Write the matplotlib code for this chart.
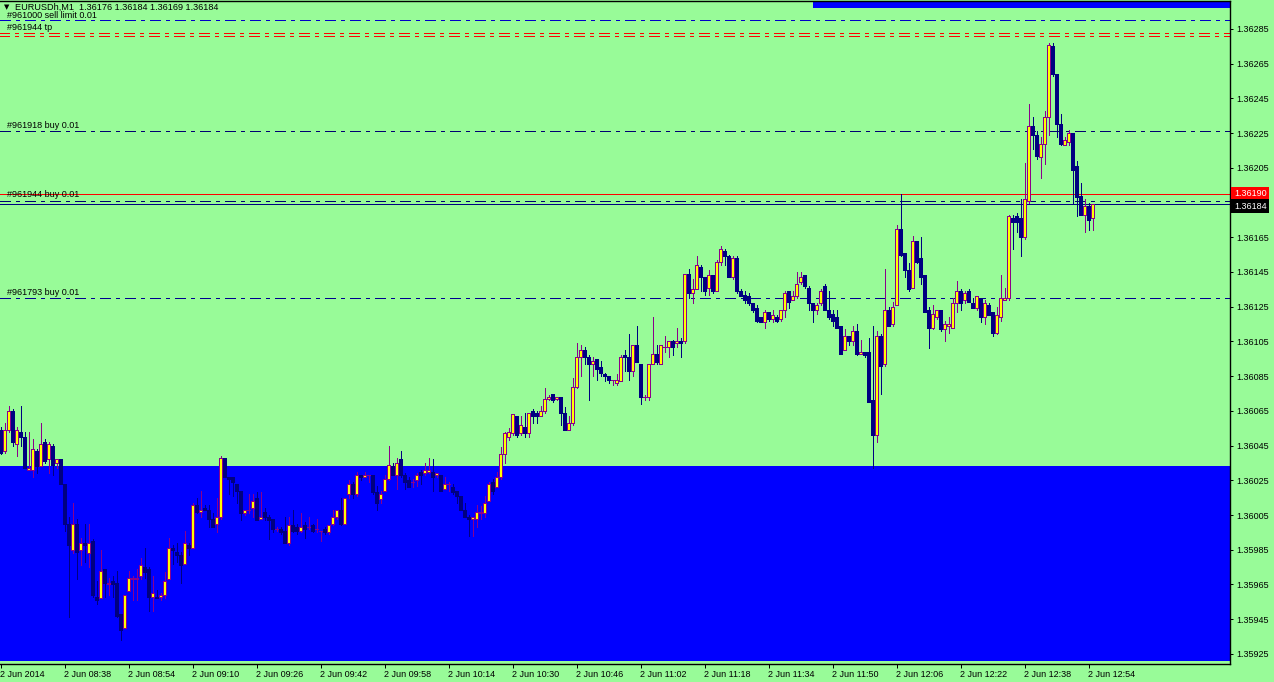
import numpy as np
import pandas as pd
import matplotlib
matplotlib.use("Agg")
import matplotlib.pyplot as plt
import matplotlib.transforms as mtransforms
from matplotlib.patches import Rectangle

# EURUSDh M1 bars, 2 Jun 2014 from 08:22
# prices in points above 1.36000 (1 point = 0.00001)
opens = [54, 42, 54, 65, 46, 53, 50, 31, 31, 42,
         33, 47, 37, 45, 35, 37, 23, 0, -15, 0,
         -15, -11, -17, -10, -42, -43, -26, -35, -33, -34,
         -52, -60, -39, -32, -32, -30, -25, -26, -42, -42,
         -42, -41, -32, -14, -16, -18, -23, -12, -14, 11,
         7, 9, 8, 3, 0, 4, 38, 27, 27, 23,
         19, 6, 8, 9, 15, 3, 7, 4, 3, -3,
         -3, -4, -11, -1, -2, -4, -1, -2, -1, -3,
         -4, -3, -5, 0, 4, 8, 0, 17, 23, 17,
         28, 27, 28, 28, 18, 14, 19, 26, 33, 28,
         37, 28, 25, 24, 25, 30, 29, 30, 30, 28,
         28, 20, 23, 21, 19, 16, 8, 4, 3, 3,
         6, 6, 13, 24, 21, 27, 40, 50, 52, 62,
         52, 56, 52, 65, 64, 62, 65, 72, 75, 72,
         73, 64, 54, 58, 79, 96, 100, 96, 92, 95,
         90, 86, 85, 83, 81, 82, 97, 96, 88, 103,
         92, 73, 73, 92, 98, 92, 102, 102, 105, 104,
         105, 105, 144, 133, 135, 148, 142, 136, 143, 134,
         151, 157, 154, 142, 153, 134, 132, 131, 127, 124,
         119, 116, 122, 118, 119, 118, 123, 134, 129, 131,
         139, 143, 136, 127, 123, 127, 137, 123, 121, 119,
         114, 100, 108, 105, 111, 98, 99, 99, 71, 51,
         108, 92, 123, 115, 126, 170, 156, 146, 136, 163,
         153, 143, 123, 113, 119, 123, 112, 114, 113, 127,
         134, 129, 134, 127, 124, 130, 119, 126, 122, 110,
         119, 129, 130, 176, 177, 176, 165, 186, 229, 224,
         211, 219, 234, 275, 259, 230, 218, 220, 225, 206,
         189, 178, 183, 176]
highs = [56, 58, 68, 66, 56, 68, 53, 53, 49, 43,
         58, 49, 47, 46, 37, 37, 23, 4, 12, 3,
         -8, 0, 0, -9, -33, -15, -26, -31, -30, -27,
         -52, -41, -27, -30, -26, -20, -14, -25, -30, -38,
         -40, -28, -8, -12, -11, -16, -4, -11, 12, 15,
         19, 11, 11, 6, 15, 39, 38, 27, 27, 23,
         19, 8, 17, 17, 18, 18, 9, 5, 3, -2,
         -2, 4, 4, 8, 0, 6, 1, 4, 0, 3,
         -4, -2, -1, 8, 8, 15, 15, 25, 24, 30,
         28, 30, 28, 28, 22, 19, 28, 45, 35, 38,
         42, 29, 27, 26, 29, 31, 35, 38, 37, 29,
         28, 27, 24, 23, 19, 16, 12, 5, 4, 11,
         10, 16, 24, 26, 30, 44, 53, 55, 63, 62,
         62, 64, 64, 66, 65, 68, 78, 74, 75, 73,
         73, 67, 62, 84, 104, 103, 102, 97, 96, 95,
         94, 87, 85, 83, 86, 97, 100, 109, 103, 114,
         92, 74, 92, 119, 103, 103, 108, 105, 106, 113,
         107, 144, 147, 141, 154, 149, 142, 146, 143, 152,
         160, 158, 155, 154, 154, 135, 134, 133, 127, 126,
         119, 123, 122, 123, 120, 123, 134, 134, 134, 145,
         145, 143, 137, 127, 127, 135, 138, 134, 123, 123,
         114, 112, 108, 114, 115, 106, 99, 107, 114, 111,
         109, 147, 125, 128, 172, 190, 156, 150, 166, 163,
         165, 143, 125, 126, 123, 123, 117, 119, 130, 140,
         135, 134, 135, 130, 131, 130, 129, 127, 122, 125,
         143, 136, 178, 178, 179, 187, 208, 242, 234, 226,
         223, 238, 277, 277, 259, 236, 223, 227, 225, 209,
         196, 187, 185, 184]
lows = [40, 41, 53, 45, 39, 45, 32, 31, 27, 29,
        33, 35, 29, 28, 32, 23, -4, -54, -17, -32,
        -24, -22, -25, -42, -46, -43, -42, -41, -42, -54,
        -67, -60, -39, -44, -44, -32, -31, -50, -50, -43,
        -44, -43, -32, -23, -22, -34, -23, -18, -14, 6,
        4, 8, -2, -2, -5, 3, 27, 17, 16, 12,
        2, 5, 6, 4, 2, 3, 2, -9, -5, -4,
        -6, -11, -12, -5, -6, -5, -8, -3, -5, -5,
        -10, -6, -6, -1, 3, -1, 0, 15, 15, 16,
        25, 27, 24, 17, 8, 12, 19, 25, 28, 20,
        27, 20, 21, 21, 22, 23, 28, 29, 19, 27,
        19, 20, 19, 17, 12, 8, 4, -7, -7, -2,
        3, 4, 13, 17, 21, 26, 35, 48, 51, 50,
        51, 50, 50, 58, 58, 62, 64, 71, 70, 71,
        57, 54, 54, 57, 78, 85, 92, 71, 85, 83,
        85, 82, 81, 80, 80, 82, 88, 83, 85, 93,
        69, 71, 71, 92, 92, 92, 99, 96, 97, 102,
        96, 104, 130, 127, 135, 134, 132, 132, 133, 134,
        149, 149, 142, 141, 133, 131, 127, 126, 122, 116,
        116, 113, 117, 116, 116, 117, 119, 124, 129, 130,
        138, 136, 123, 116, 121, 126, 123, 118, 114, 113,
        98, 100, 103, 103, 97, 98, 96, 70, 32, 47,
        75, 91, 114, 114, 126, 154, 142, 134, 136, 150,
        138, 122, 101, 112, 118, 111, 105, 110, 113, 122,
        123, 127, 128, 124, 123, 116, 115, 120, 108, 109,
        117, 129, 129, 158, 168, 154, 164, 185, 216, 210,
        199, 207, 224, 258, 223, 218, 218, 218, 185, 177,
        178, 168, 169, 169]
closes = [41, 54, 65, 47, 54, 50, 32, 32, 43, 33,
          46, 36, 46, 34, 37, 23, 0, -12, 0, -16,
          -11, -12, -11, -41, -44, -27, -34, -34, -35, -53,
          -61, -41, -31, -31, -31, -24, -28, -42, -40, -43,
          -41, -33, -14, -15, -18, -24, -11, -14, 11, 7,
          8, 8, 3, -2, 4, 38, 27, 26, 24, 19,
          6, 8, 8, 13, 2, 4, 4, 2, -3, -3,
          -5, -11, -1, -4, -4, -2, -3, -2, -4, -3,
          -4, -5, -1, 4, 8, 0, 15, 23, 17, 28,
          27, 28, 28, 18, 12, 17, 26, 34, 28, 35,
          28, 24, 21, 24, 28, 28, 31, 31, 27, 29,
          19, 23, 23, 18, 16, 8, 4, 3, 4, 7,
          7, 12, 23, 19, 27, 40, 52, 53, 63, 51,
          57, 52, 64, 62, 62, 65, 72, 73, 71, 73,
          64, 54, 58, 79, 96, 100, 96, 92, 94, 89,
          87, 85, 83, 83, 83, 96, 96, 88, 103, 93,
          73, 73, 92, 98, 93, 103, 102, 105, 102, 105,
          104, 144, 133, 135, 149, 142, 134, 143, 134, 151,
          158, 154, 142, 153, 134, 131, 129, 127, 123, 117,
          116, 122, 118, 120, 117, 123, 133, 128, 131, 138,
          142, 137, 127, 123, 126, 134, 123, 119, 117, 113,
          98, 108, 105, 111, 98, 99, 97, 70, 51, 108,
          91, 123, 114, 125, 170, 155, 146, 135, 163, 151,
          142, 122, 113, 121, 123, 112, 115, 115, 127, 134,
          127, 133, 128, 124, 131, 119, 127, 120, 110, 120,
          130, 130, 177, 174, 174, 165, 187, 229, 224, 212,
          219, 234, 276, 259, 230, 219, 221, 225, 204, 188,
          178, 183, 175, 184]

start_time = "2014-06-02 08:22"
header = "EURUSDh,M1  1.36176 1.36184 1.36169 1.36184"

# order / level lines: (label, price, colour)
order_lines = [("#961000 sell limit 0.01", 1.36290, "#0000c8"),
               ("#961918 buy 0.01", 1.36226, "#000070"),
               ("#961944 buy 0.01", 1.36186, "#000070"),
               ("#961793 buy 0.01", 1.36130, "#000090")]
tp_label, tp_price = "#961944 tp", 1.36282
ask_price = 1.36190
bid_price = 1.36184
zone_low = (1.35921, 1.36033)   # big blue rectangle (bottom)
zone_high_bottom = 1.36297      # small blue rectangle (top right)
zone_high_start = "2014-06-02 11:45"

y_ticks = [1.35925, 1.35945, 1.35965, 1.35985, 1.36005, 1.36025, 1.36045,
           1.36065, 1.36085, 1.36105, 1.36125, 1.36145, 1.36165, 1.36205,
           1.36225, 1.36245, 1.36265, 1.36285]

BG = "#98fb98"
BULL_FILL = "#ffff00"
BULL_EDGE = "#8b008b"
BEAR = "#000080"
PX = 0.72  # one pixel in points at dpi 100

plt.rcParams["font.family"] = ["Liberation Sans", "DejaVu Sans"]
plt.rcParams["lines.scale_dashes"] = False

o = 1.36 + np.array(opens) / 1e5
h = 1.36 + np.array(highs) / 1e5
l = 1.36 + np.array(lows) / 1e5
c = 1.36 + np.array(closes) / 1e5
n = len(o)
x = np.arange(n)
times = pd.date_range(start_time, periods=n, freq="min")

fig = plt.figure(figsize=(12.74, 6.82), dpi=100, facecolor=BG)
ax = fig.add_axes([0, 18 / 682, 1230 / 1274, 663 / 682], facecolor=BG)
ax.set_xlim(-0.125, 307.375)
ax.set_ylim(1.359192, 1.363011)
y0, y1 = ax.get_ylim()
px_price = (y1 - y0) / 663  # price span of one pixel

# rectangles
ax.add_patch(Rectangle((-1, zone_low[0]), 400, zone_low[1] - zone_low[0],
                       facecolor="#0000ff", edgecolor="none", zorder=0.5))
hs = (pd.Timestamp(zone_high_start) - times[0]) / pd.Timedelta(minutes=1)
ax.add_patch(Rectangle((hs, zone_high_bottom), 400, 0.001,
                       facecolor="#0000ff", edgecolor="none", zorder=0.5))

# level lines
dashdot = (0, (7.2, 3.6, 2.2, 3.6))
xt = mtransforms.blended_transform_factory(ax.transAxes, ax.transData)
for label, price, col in order_lines:
    ax.axhline(price, color=col, lw=PX, linestyle=dashdot, zorder=1, antialiased=False)
    lift = 0.5 if label.startswith("#961000") else 1.5
    ax.text(7 / 1230, price + lift * px_price, label, transform=xt,
            fontsize=6.5, color="#000000", va="bottom", ha="left", zorder=3)
# take profit: double red dash-dot
ax.hlines([tp_price - 1.5 * px_price, tp_price + 1.5 * px_price], -1, 400,
          colors="#ff0000", linewidth=1.0, linestyles=[dashdot], zorder=1.2,
          antialiased=False)
ax.text(7 / 1230, tp_price + 2.5 * px_price, tp_label, transform=xt,
        fontsize=6.5, color="#000000", va="bottom", ha="left", zorder=3)
ax.axhline(ask_price, color="#ff0000", lw=PX, zorder=1, antialiased=False)
ax.axhline(bid_price, color="#000080", lw=PX, zorder=1, antialiased=False)

# candles
bull = c >= o
ax.vlines(x[bull], l[bull], h[bull], color=BULL_EDGE, lw=PX, zorder=2, antialiased=False)
ax.vlines(x[~bull], l[~bull], h[~bull], color=BEAR, lw=PX, zorder=2, antialiased=False)
ax.bar(x[bull], (c - o)[bull], bottom=o[bull], width=0.55, color=BULL_FILL,
       edgecolor=BULL_EDGE, linewidth=PX, zorder=3, antialiased=False)
ax.bar(x[~bull], (o - c)[~bull], bottom=c[~bull], width=0.55, color=BEAR,
       edgecolor=BEAR, linewidth=PX, zorder=3, antialiased=False)

# axes / ticks
ax.spines["left"].set_visible(False)
for side in ("top", "bottom", "right"):
    ax.spines[side].set_linewidth(1.0)
    ax.spines[side].set_color("#000000")
ax.yaxis.tick_right()
ax.set_yticks(y_ticks)
ax.set_yticklabels([f"{v:.5f}" for v in y_ticks])
ax.tick_params(axis="y", direction="out", length=2.5, width=PX, pad=2.2, labelsize=6.5, colors="#000000")

tick_idx = list(range(0, n, 16))
tick_lab = ["2 Jun 2014"] + [f"{times[i].day} {times[i]:%b %H:%M}" for i in tick_idx[1:]]
ax.set_xticks(tick_idx)
ax.set_xticklabels(tick_lab)
for t in ax.get_xticklabels():
    t.set_ha("left")
ax.tick_params(axis="x", direction="out", length=3, width=PX, pad=1.5, labelsize=6.5, colors="#000000")

# header
fig.text(4 / 1274, 1 - 7 / 682, "\u25bc", fontsize=5, va="center", ha="left",
         family=["DejaVu Sans"], zorder=6)
fig.text(15 / 1274, 1 - 7 / 682, header, fontsize=6.6, va="center", ha="left", zorder=6)

# price tags
ax.text(1 + 4 / 1230, ask_price, "1.36190", transform=xt, fontsize=6.5, color="white",
        va="center", ha="left", zorder=6,
        bbox=dict(boxstyle="square,pad=0.3", facecolor="#ff0000", edgecolor="none"))
ax.text(1 + 4 / 1230, bid_price - 0.00001, "1.36184", transform=xt, fontsize=6.5, color="white",
        va="center", ha="left", zorder=6,
        bbox=dict(boxstyle="square,pad=0.3", facecolor="#000000", edgecolor="none"))

fig.savefig("out.png", dpi=100, facecolor=BG)
